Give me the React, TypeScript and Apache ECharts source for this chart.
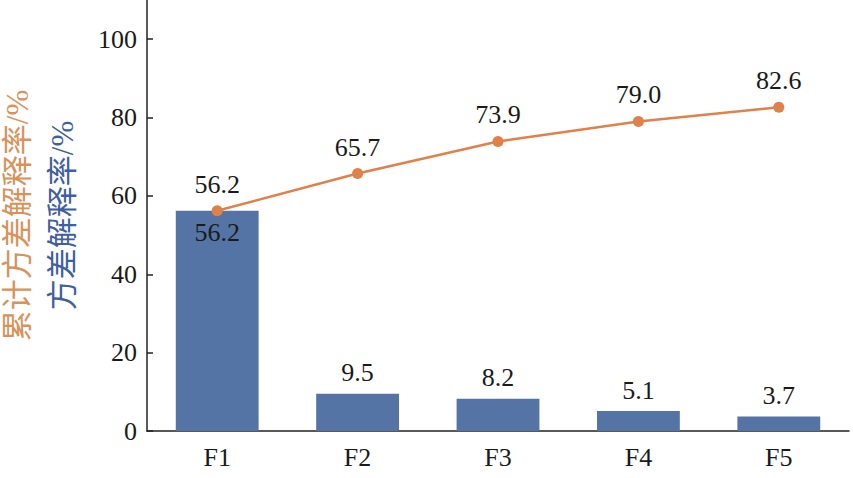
import React, { useEffect, useRef } from "react";
import * as echarts from "echarts";

const categories = ["F1", "F2", "F3", "F4", "F5"];
const varianceValues = [56.2, 9.5, 8.2, 5.1, 3.7];
const cumulativeValues = [56.2, 65.7, 73.9, 79.0, 82.6];
const yTickValues = [0, 20, 40, 60, 80, 100];

const SERIF = "Liberation Serif, Tinos, Times, DejaVu Serif";
const CJK = SERIF + ", Noto Sans CJK SC";
const FS = 26;

export default function App() {
  const ref = useRef<HTMLDivElement>(null);
  useEffect(() => {
    if (!ref.current) return;
    const chart = echarts.init(ref.current, null, { renderer: "svg" });
    chart.setOption({
      animation: false,
      backgroundColor: "#ffffff",
      grid: {
        left: 147,
        right: 4,
        top: 0,
        bottom: 47,
        containLabel: false,
        outerBoundsMode: "none",
      },
      xAxis: {
        type: "category",
        data: categories,
        axisLine: { lineStyle: { color: "#222", width: 1.5 } },
        axisTick: { show: false },
        axisLabel: { fontFamily: SERIF, fontSize: FS, color: "#1a1a1a", margin: 13 },
      },
      yAxis: {
        type: "value",
        min: 0,
        max: 110,
        interval: 10,
        splitLine: { show: false },
        axisLine: { show: true, lineStyle: { color: "#222", width: 1.5 } },
        axisTick: {
          show: true,
          inside: true,
          length: 6,
          customValues: yTickValues,
          lineStyle: { color: "#222", width: 1.5 },
        },
        axisLabel: {
          customValues: yTickValues,
          fontFamily: SERIF,
          fontSize: FS,
          color: "#1a1a1a",
          margin: 10,
        },
        name: "{a|累计方差解释率/%}\n{b|方差解释率/%}",
        nameLocation: "middle",
        nameRotate: 90,
        nameGap: 62,
        nameMoveOverlap: false,
        nameTextStyle: {
          fontFamily: CJK,
          fontSize: 31,
          lineHeight: 45,
          rich: {
            a: { fontFamily: CJK, fontSize: 31, lineHeight: 45, color: "#d8925a" },
            b: { fontFamily: CJK, fontSize: 31, lineHeight: 45, color: "#3f5fa0" },
          },
        },
      },
      series: [
        {
          type: "bar",
          data: varianceValues.map((v, i) => ({
            value: v,
            label: i === 0 ? { position: "insideTop", distance: 9 } : { position: "top", distance: 8 },
          })),
          barWidth: "59%",
          itemStyle: { color: "#5574a6" },
          label: {
            show: true,
            fontFamily: SERIF,
            fontSize: FS,
            color: "#1a1a1a",
            formatter: (p: any) => p.value.toFixed(1),
          },
          z: 1,
        },
        {
          type: "line",
          data: cumulativeValues,
          symbol: "circle",
          symbolSize: 11,
          itemStyle: { color: "#e0804a" },
          lineStyle: { color: "#e0804a", width: 2.5 },
          label: {
            show: true,
            position: "top",
            distance: 8,
            fontFamily: SERIF,
            fontSize: FS,
            color: "#1a1a1a",
            formatter: (p: any) => p.value.toFixed(1),
          },
          z: 3,
        },
      ],
    });
    return () => chart.dispose();
  }, []);
  return (
    <div
      ref={ref}
      style={{ position: "fixed", left: 0, top: 0, width: 853, height: 478 }}
    />
  );
}
